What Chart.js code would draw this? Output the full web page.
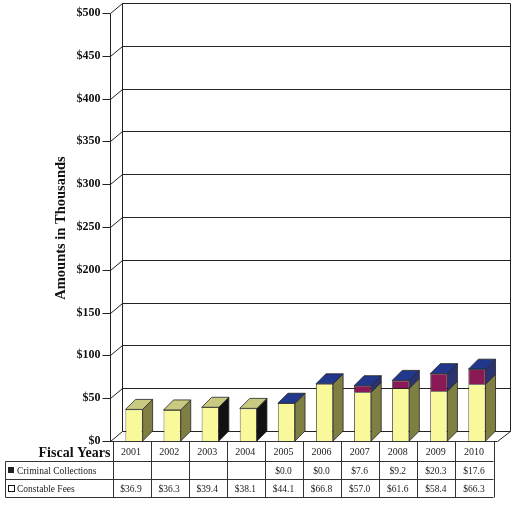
<!DOCTYPE html>
<html>
<head>
<meta charset="utf-8">
<script src="https://cdn.jsdelivr.net/npm/chart.js@4/dist/chart.umd.min.js"></script>
<style>
  html, body { margin: 0; padding: 0; background: #fff; }
  #wrap { width: 528px; height: 506px; }
</style>
</head>
<body>
<div id="wrap"><canvas id="c" width="528" height="506"></canvas></div>
<script>
/* ---- Dados ---- */
const years      = ['2001', '2002', '2003', '2004', '2005', '2006', '2007', '2008', '2009', '2010'];
const constable  = [36.9, 36.3, 39.4, 38.1, 44.1, 66.8, 57.0, 61.6, 58.4, 66.3];
const criminal   = [null, null, null, null, 0.0, 0.0, 7.6, 9.2, 20.3, 17.6];
const yTicks     = [0, 50, 100, 150, 200, 250, 300, 350, 400, 450, 500];
const seriesNames = ['Criminal Collections', 'Constable Fees'];

/* ---- Estilo 3D ---- */
const DX = 10, DY = -10;         // profundidade das barras
const WX = 12, WY = -10;         // deslocamento da parede do fundo
const faces = {
  constable: { front: '#f9f99c', side: '#7f7f43', top: '#c9c982' },
  criminal:  { front: '#8a1a55', side: '#2a336f', top: '#21388c' }
};
const darkSide = [false, false, true, true, false, false, false, false, false, false];
const fmt = v => (v === null ? '' : '$' + v.toFixed(1));

function poly(ctx, pts, fill) {
  ctx.beginPath();
  ctx.moveTo(pts[0][0], pts[0][1]);
  for (let i = 1; i < pts.length; i++) ctx.lineTo(pts[i][0], pts[i][1]);
  ctx.closePath();
  ctx.fillStyle = fill;
  ctx.fill();
  ctx.strokeStyle = '#222';
  ctx.lineWidth = 0.8;
  ctx.stroke();
}

const frame3d = {
  id: 'frame3d',
  beforeDatasetsDraw(chart) {
    const { ctx, scales: { y } } = chart;
    const axX = 110.5;
    const wallL = axX + WX, wallR = 510.5;
    ctx.save();
    ctx.strokeStyle = '#222';
    ctx.lineWidth = 1;
    // grade na parede do fundo + diagonais na parede lateral
    yTicks.forEach(v => {
      const py = Math.round(y.getPixelForValue(v)) + 0.5;
      ctx.beginPath();
      ctx.moveTo(axX - 8, py);
      ctx.lineTo(axX, py);
      ctx.lineTo(wallL, py + WY);
      ctx.lineTo(wallR, py + WY);
      ctx.stroke();
    });
    const top = Math.round(y.getPixelForValue(500)) + 0.5;
    const bot = Math.round(y.getPixelForValue(0)) + 0.5;
    ctx.beginPath();
    ctx.moveTo(axX, top); ctx.lineTo(axX, bot);
    ctx.moveTo(wallL, top + WY); ctx.lineTo(wallL, bot + WY);
    ctx.moveTo(wallR, top + WY); ctx.lineTo(wallR, bot + WY);
    ctx.lineTo(wallR - WX - 1, bot);
    ctx.lineTo(axX, bot);
    ctx.stroke();

    // rótulos do eixo Y
    ctx.fillStyle = '#111';
    ctx.font = 'bold 12px "Liberation Serif"';
    ctx.textAlign = 'right';
    ctx.textBaseline = 'middle';
    yTicks.forEach(v => {
      ctx.fillText('$' + v, axX - 10, y.getPixelForValue(v));
    });

    // título do eixo
    ctx.save();
    ctx.translate(61, 228);
    ctx.rotate(-Math.PI / 2);
    ctx.textAlign = 'center';
    ctx.font = 'bold 14.5px "Liberation Serif"';
    ctx.fillText('Amounts in Thousands', 0, 0);
    ctx.restore();
    ctx.restore();
  },

  afterDatasetsDraw(chart) {
    const { ctx } = chart;
    const consMeta = chart.getDatasetMeta(0);
    const crimMeta = chart.getDatasetMeta(1);
    ctx.save();
    years.forEach((yr, i) => {
      const b = consMeta.data[i];
      const x1 = b.x - b.width / 2, x2 = b.x + b.width / 2;
      const base = b.base, cTop = b.y;
      poly(ctx, [[x2, cTop], [x2 + DX, cTop + DY], [x2 + DX, base + DY], [x2, base]],
        darkSide[i] ? '#111' : faces.constable.side);
      if (criminal[i] === null) {
        poly(ctx, [[x1, cTop], [x1 + DX, cTop + DY], [x2 + DX, cTop + DY], [x2, cTop]], faces.constable.top);
      } else {
        const t = crimMeta.data[i].y;
        if (t < cTop - 0.5) {
          poly(ctx, [[x2, t], [x2 + DX, t + DY], [x2 + DX, cTop + DY], [x2, cTop]], faces.criminal.side);
        }
        poly(ctx, [[x1, t], [x1 + DX, t + DY], [x2 + DX, t + DY], [x2, t]], faces.criminal.top);
      }
    });
    ctx.restore();
  },

  afterDraw(chart) {
    const { ctx, scales: { x } } = chart;
    const colW = x.width / years.length;
    const left = 5.5, tabL = Math.round(x.left - 3) + 0.5;
    const rows = [441.5, 461.5, 479.5, 497.5];
    ctx.save();
    ctx.strokeStyle = '#333';
    ctx.lineWidth = 1;
    ctx.beginPath();
    // linhas horizontais
    ctx.moveTo(tabL, rows[0]); ctx.lineTo(tabL + colW * years.length, rows[0]);
    for (let r = 1; r < rows.length; r++) {
      ctx.moveTo(left, rows[r]); ctx.lineTo(tabL + colW * years.length, rows[r]);
    }
    // linhas verticais
    ctx.moveTo(left, rows[1]); ctx.lineTo(left, rows[3]);
    for (let c = 0; c <= years.length; c++) {
      const px = Math.round(tabL + c * colW) + 0.5;
      ctx.moveTo(px, rows[0]); ctx.lineTo(px, rows[3]);
    }
    ctx.stroke();

    ctx.textBaseline = 'middle';
    ctx.fillStyle = '#111';
    ctx.font = 'bold 14px "Liberation Serif"';
    ctx.textAlign = 'right';
    ctx.fillText('Fiscal Years', tabL - 2, 453);

    ctx.textAlign = 'center';
    ctx.fillStyle = '#222';
    years.forEach((yr, i) => {
      const cx = x.getPixelForValue(i) - 3;
      ctx.font = '10px "Liberation Serif"';
      ctx.fillText(yr, cx, 452);
      ctx.font = '9.5px "Liberation Serif"';
      ctx.fillText(fmt(criminal[i]), cx, 471);
      ctx.fillText(fmt(constable[i]), cx, 489);
    });

    // legenda nas linhas da tabela
    ctx.textAlign = 'left';
    ctx.font = '9.5px "Liberation Serif"';
    ctx.fillStyle = '#222';
    ctx.fillRect(8, 467, 6, 6);
    ctx.fillText(seriesNames[0], 17, 471);
    ctx.strokeStyle = '#111';
    ctx.strokeRect(8.5, 485.5, 6, 6);
    ctx.fillText(seriesNames[1], 17, 489);
    ctx.restore();
  }
};

new Chart(document.getElementById('c').getContext('2d'), {
  type: 'bar',
  data: {
    labels: years,
    datasets: [
      { label: seriesNames[1], data: constable, backgroundColor: faces.constable.front,
        borderColor: '#222', borderWidth: 0.8, stack: 's' },
      { label: seriesNames[0], data: criminal, backgroundColor: faces.criminal.front,
        borderColor: '#222', borderWidth: 0.8, stack: 's' }
    ]
  },
  options: {
    responsive: false,
    animation: false,
    layout: { padding: { left: 115, right: 32, top: 13, bottom: 65 } },
    datasets: { bar: { categoryPercentage: 1, barPercentage: 0.45, skipNull: false } },
    scales: {
      x: { display: false, stacked: true, offset: true },
      y: { display: false, stacked: true, min: 0, max: 500 }
    },
    plugins: { legend: { display: false }, tooltip: { enabled: false } }
  },
  plugins: [frame3d]
});
</script>
</body>
</html>
